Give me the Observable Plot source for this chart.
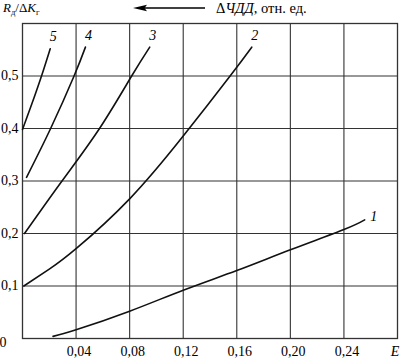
<!DOCTYPE html>
<html><head><meta charset="utf-8">
<script src="https://cdn.jsdelivr.net/npm/d3@7"></script>
<script src="https://cdn.jsdelivr.net/npm/@observablehq/plot@0.6"></script>
<style>body{margin:0;background:#fff} svg text{font-family:"Liberation Serif","Tinos","Times New Roman","DejaVu Serif",serif !important;}</style>
</head><body><div id="chart"></div>
<script>
// curve data (E, R_д/ΔK_г)
const e1 = [0.0228, 0.04, 0.08, 0.12, 0.16, 0.20, 0.24, 0.2555];
const r1 = [0.004, 0.0166, 0.052, 0.092, 0.1295, 0.169, 0.2076, 0.226];
const e2 = [0.001, 0.02, 0.04, 0.08, 0.12, 0.155, 0.1712];
const r2 = [0.1, 0.132, 0.171, 0.266, 0.3856, 0.5, 0.555];
const e3 = [0.0015, 0.0295, 0.0575, 0.0815, 0.0950];
const r3 = [0.2, 0.3, 0.4, 0.5, 0.555];
const e4 = [0.003, 0.021, 0.0385, 0.047];
const r4 = [0.307, 0.4, 0.5, 0.555];
const e5 = [0.0, 0.007, 0.0142, 0.0207];
const r5 = [0.398, 0.447, 0.5, 0.552];
const curveNames = ["1", "2", "3", "4", "5"];
const xTicks = [0.04, 0.08, 0.12, 0.16, 0.20, 0.24];
const yTicks = [0.1, 0.2, 0.3, 0.4, 0.5];
const xTickLabels = ["0,04", "0,08", "0,12", "0,16", "0,20", "0,24"];
const yTickLabels = ["0,1", "0,2", "0,3", "0,4", "0,5"];

const es = [e1, e2, e3, e4, e5], rs = [r1, r2, r3, r4, r5];
const data = [];
curveNames.forEach((c, i) => es[i].forEach((e, j) => data.push({curve: c, e, r: rs[i][j]})));

const ff = "Liberation Serif, Tinos, Times New Roman, DejaVu Serif, serif";
const ink = "#111";
const svg = Plot.plot({
  width: 400, height: 359,
  marginLeft: 22, marginRight: 3, marginTop: 23, marginBottom: 21,
  x: {domain: [0, 0.28], label: null},
  y: {domain: [0, 0.6], label: null},
  style: {fontFamily: ff, fontSize: "14px", background: "white", color: "black"},
  marks: [
    Plot.gridX(xTicks, {stroke: "#333", strokeOpacity: 1, strokeWidth: 1.1}),
    Plot.gridY(yTicks, {stroke: "#333", strokeOpacity: 1, strokeWidth: 1.1}),
    Plot.frame({stroke: "#333", strokeWidth: 1.3}),
    Plot.line(data, {x: "e", y: "r", z: "curve", curve: "natural", stroke: ink, strokeWidth: 1.6}),
    Plot.axisX(xTicks, {tickSize: 0, tickPadding: 8, dx: 3, label: null, fontSize: 14,
      tickFormat: d => xTickLabels[xTicks.indexOf(d)]}),
    Plot.axisY(yTicks, {tickSize: 0, tickPadding: 4, label: null, fontSize: 14,
      tickFormat: d => yTickLabels[yTicks.indexOf(d)]}),
    Plot.axisY([0], {tickSize: 0, tickPadding: 4, dx: -12, dy: 4, label: null, fontSize: 14, tickFormat: () => "0"}),
    Plot.text(data, Plot.selectLast({x: "e", y: "r", z: "curve", text: "curve",
      filter: d => d.curve !== "1", dx: 3, dy: -12, fontStyle: "italic", fontSize: 14, fill: "black"})),
    Plot.text(data, Plot.selectLast({x: "e", y: "r", z: "curve", text: "curve",
      filter: d => d.curve === "1", dx: 9, dy: -3, fontStyle: "italic", fontSize: 14, fill: "black"}))
  ]
});

const s = d3.select(svg);
// y header: R_д/ΔK_г
const t1 = s.append("text").attr("x", 3).attr("y", 12).attr("text-anchor", "start")
  .attr("font-family", ff).attr("font-size", 13).attr("fill", "black");
t1.append("tspan").attr("font-style", "italic").text("R");
t1.append("tspan").attr("font-size", 8.5).attr("dy", 3).text("д");
t1.append("tspan").attr("dy", -3).text("/Δ");
t1.append("tspan").attr("font-style", "italic").text("K");
t1.append("tspan").attr("font-size", 8.5).attr("dy", 3).text("г");
// arrow
s.append("line").attr("x1", 140).attr("x2", 205).attr("y1", 8).attr("y2", 8).attr("stroke", "black").attr("stroke-width", 1.3);
s.append("path").attr("d", "M133,8 L147,4.8 L144.5,8 L147,11.2 Z").attr("fill", "black");
// ΔЧДД, отн. ед.
const t2 = s.append("text").attr("x", 216).attr("y", 12.5).attr("text-anchor", "start")
  .attr("font-family", ff).attr("font-size", 14.5).attr("fill", "black");
t2.append("tspan").text("Δ");
t2.append("tspan").attr("font-style", "italic").text("ЧДД");
t2.append("tspan").text(", отн. ед.");
// E
s.append("text").attr("x", 395).attr("y", 356).attr("text-anchor", "middle").attr("font-family", ff)
  .attr("font-size", 14).attr("font-style", "italic").attr("fill", "black").text("E");

document.getElementById("chart").append(svg);
</script>
</body></html>
